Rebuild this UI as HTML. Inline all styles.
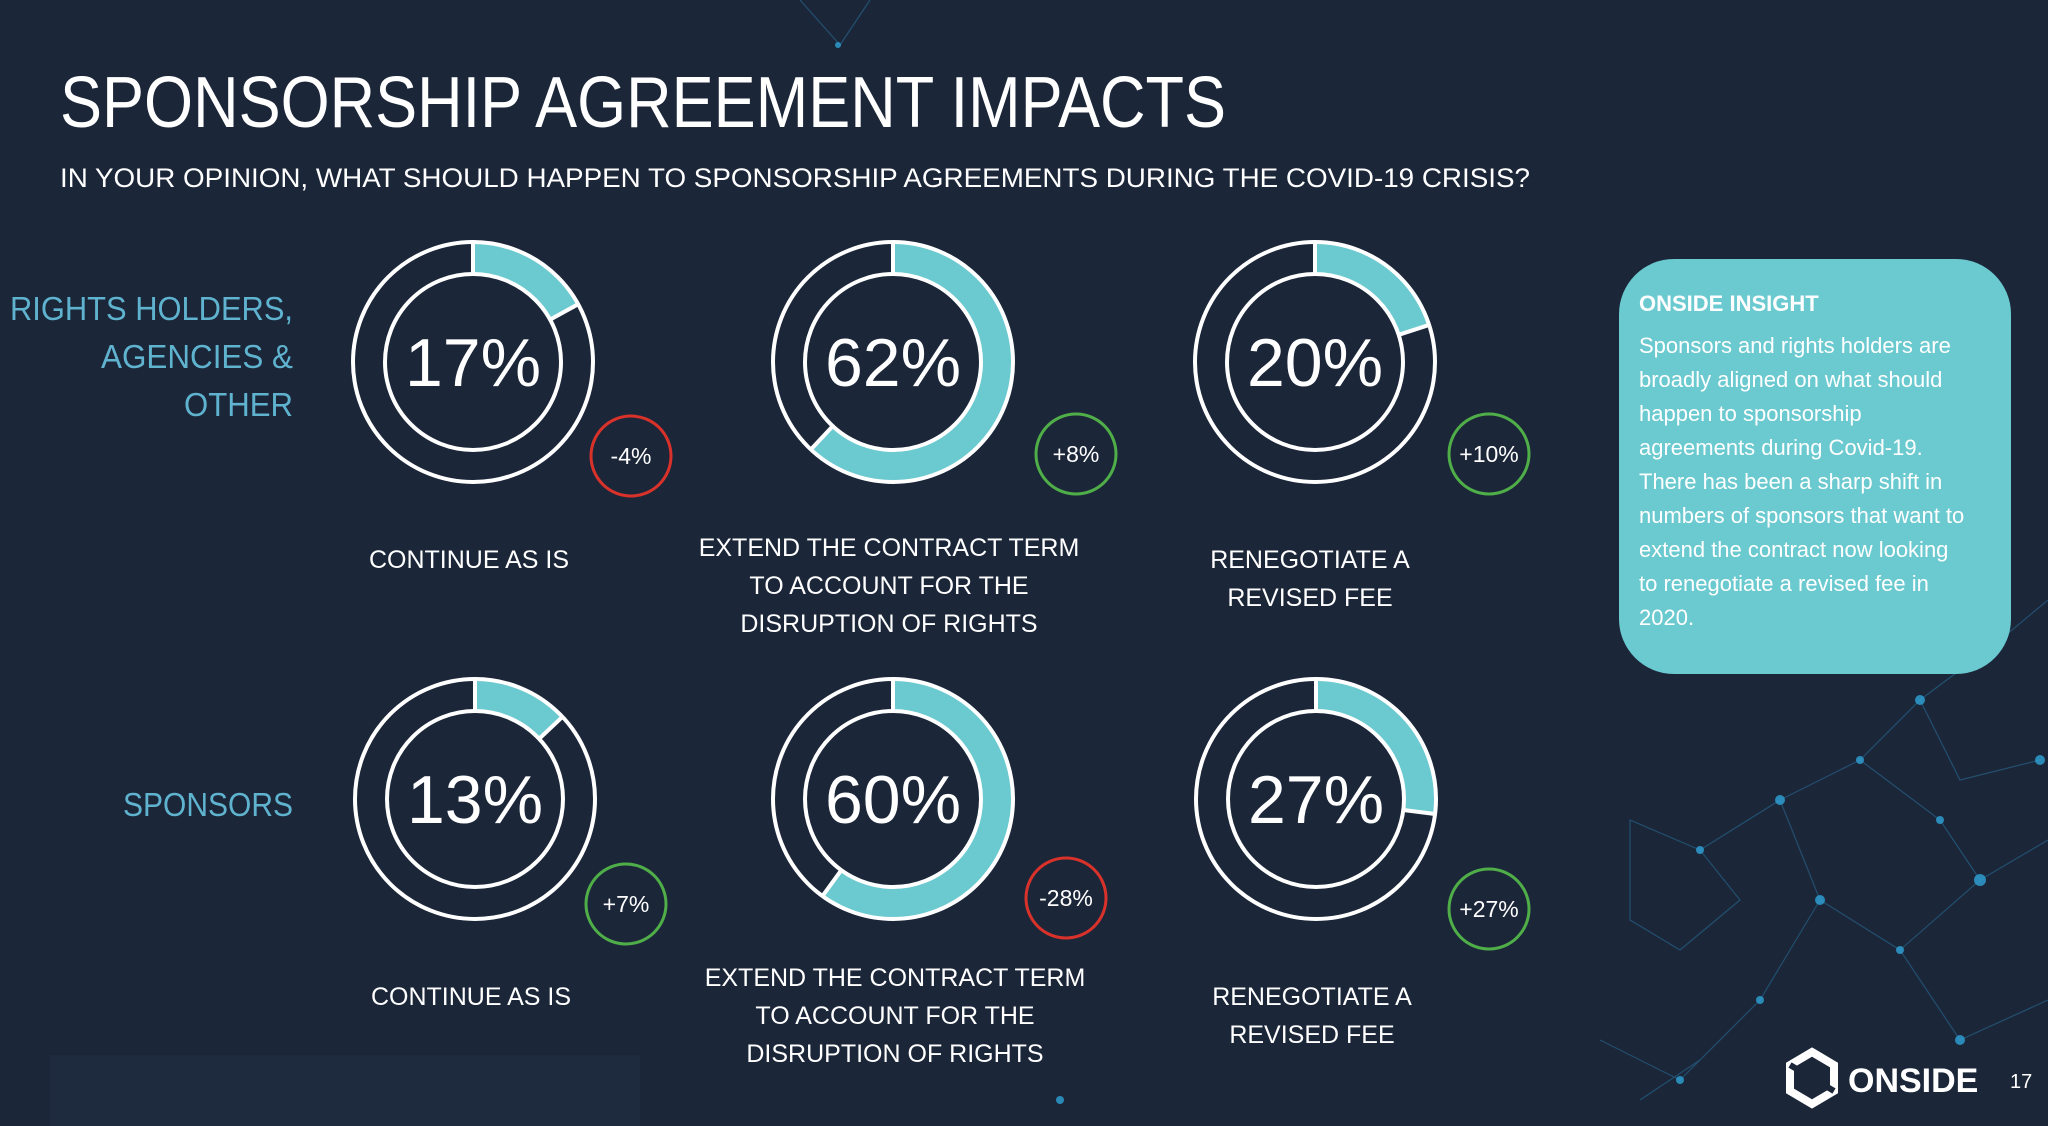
<!DOCTYPE html>
<html><head><meta charset="utf-8"><style>
html,body{margin:0;padding:0;background:#1b2639;}
svg{display:block;font-family:"Liberation Sans",sans-serif;}
</style></head><body>
<svg width="2048" height="1126" viewBox="0 0 2048 1126" xmlns="http://www.w3.org/2000/svg">
<rect width="2048" height="1126" fill="#1b2639"/>
<rect x="50" y="1055" width="590" height="71" fill="#1e2a3e"/>
<!-- network decor -->
<g stroke="#2f8fc0" stroke-width="1.2" opacity="0.4" fill="none">
<path d="M1630 820 L1700 850 L1740 900 L1680 950 L1630 920 Z M1700 850 L1780 800 L1860 760 L1920 700 L2000 640 L2048 600 M1780 800 L1820 900 L1900 950 L1980 880 L2048 840 M1820 900 L1760 1000 L1700 1060 L1640 1100 M1900 950 L1960 1040 L2048 1000 M1860 760 L1940 820 L1980 880 M1600 1040 L1680 1080 L1760 1000 M1920 700 L1960 780 L2040 760"/>
<path d="M800 0 L840 45 L870 0"/>
</g>
<g fill="#2fa3d8" opacity="0.8">
<circle cx="1700" cy="850" r="4"/><circle cx="1780" cy="800" r="5"/><circle cx="1860" cy="760" r="4"/><circle cx="1920" cy="700" r="5"/><circle cx="2000" cy="640" r="4"/><circle cx="1820" cy="900" r="5"/><circle cx="1900" cy="950" r="4"/><circle cx="1980" cy="880" r="6"/><circle cx="1760" cy="1000" r="4"/><circle cx="1960" cy="1040" r="5"/><circle cx="1940" cy="820" r="4"/><circle cx="1680" cy="1080" r="4"/><circle cx="2040" cy="760" r="5"/><circle cx="838" cy="45" r="3"/><circle cx="1060" cy="1100" r="4"/>
</g>

<text x="60" y="127" fill="#fff" font-size="72" textLength="1166" lengthAdjust="spacingAndGlyphs">SPONSORSHIP AGREEMENT IMPACTS</text>
<text x="60" y="187" fill="#fff" font-size="27" textLength="1470" lengthAdjust="spacingAndGlyphs">IN YOUR OPINION, WHAT SHOULD HAPPEN TO SPONSORSHIP AGREEMENTS DURING THE COVID-19 CRISIS?</text>

<g fill="#5fb3cf" font-size="33">
<text x="10" y="320" textLength="283" lengthAdjust="spacingAndGlyphs">RIGHTS HOLDERS,</text>
<text x="101" y="368" textLength="192" lengthAdjust="spacingAndGlyphs">AGENCIES &amp;</text>
<text x="184" y="416" textLength="109" lengthAdjust="spacingAndGlyphs">OTHER</text>
<text x="123" y="816" textLength="170" lengthAdjust="spacingAndGlyphs">SPONSORS</text>
</g>

<defs>
<g id="ringbase">
<circle r="120" fill="none" stroke="#fff" stroke-width="4"/>
<circle r="88" fill="none" stroke="#fff" stroke-width="4"/>
</g>
</defs>

<g transform="translate(473,362)"><circle r="104" fill="none" stroke="#6bc9d0" stroke-width="30" stroke-dasharray="111.1 700" transform="rotate(-90)"/><use href="#ringbase"/><line x1="0" y1="-88" x2="0" y2="-120" stroke="#fff" stroke-width="4"/><line x1="0" y1="-88" x2="0" y2="-120" stroke="#fff" stroke-width="4" transform="rotate(61.2)"/><text y="24" text-anchor="middle" fill="#fff" font-size="68">17%</text></g>
<g transform="translate(893,362)"><circle r="104" fill="none" stroke="#6bc9d0" stroke-width="30" stroke-dasharray="405.1 700" transform="rotate(-90)"/><use href="#ringbase"/><line x1="0" y1="-88" x2="0" y2="-120" stroke="#fff" stroke-width="4"/><line x1="0" y1="-88" x2="0" y2="-120" stroke="#fff" stroke-width="4" transform="rotate(223.2)"/><text y="24" text-anchor="middle" fill="#fff" font-size="68">62%</text></g>
<g transform="translate(1315,362)"><circle r="104" fill="none" stroke="#6bc9d0" stroke-width="30" stroke-dasharray="130.7 700" transform="rotate(-90)"/><use href="#ringbase"/><line x1="0" y1="-88" x2="0" y2="-120" stroke="#fff" stroke-width="4"/><line x1="0" y1="-88" x2="0" y2="-120" stroke="#fff" stroke-width="4" transform="rotate(72)"/><text y="24" text-anchor="middle" fill="#fff" font-size="68">20%</text></g>
<g transform="translate(475,799)"><circle r="104" fill="none" stroke="#6bc9d0" stroke-width="30" stroke-dasharray="84.9 700" transform="rotate(-90)"/><use href="#ringbase"/><line x1="0" y1="-88" x2="0" y2="-120" stroke="#fff" stroke-width="4"/><line x1="0" y1="-88" x2="0" y2="-120" stroke="#fff" stroke-width="4" transform="rotate(46.8)"/><text y="24" text-anchor="middle" fill="#fff" font-size="68">13%</text></g>
<g transform="translate(893,799)"><circle r="104" fill="none" stroke="#6bc9d0" stroke-width="30" stroke-dasharray="392.1 700" transform="rotate(-90)"/><use href="#ringbase"/><line x1="0" y1="-88" x2="0" y2="-120" stroke="#fff" stroke-width="4"/><line x1="0" y1="-88" x2="0" y2="-120" stroke="#fff" stroke-width="4" transform="rotate(216)"/><text y="24" text-anchor="middle" fill="#fff" font-size="68">60%</text></g>
<g transform="translate(1316,799)"><circle r="104" fill="none" stroke="#6bc9d0" stroke-width="30" stroke-dasharray="176.4 700" transform="rotate(-90)"/><use href="#ringbase"/><line x1="0" y1="-88" x2="0" y2="-120" stroke="#fff" stroke-width="4"/><line x1="0" y1="-88" x2="0" y2="-120" stroke="#fff" stroke-width="4" transform="rotate(97.2)"/><text y="24" text-anchor="middle" fill="#fff" font-size="68">27%</text></g>

<g fill="none" stroke-width="3">
<circle cx="631" cy="456" r="40" stroke="#d8322a"/>
<circle cx="1076" cy="454" r="40" stroke="#4fae48"/>
<circle cx="1489" cy="454" r="40" stroke="#4fae48"/>
<circle cx="626" cy="904" r="40" stroke="#4fae48"/>
<circle cx="1066" cy="898" r="40" stroke="#d8322a"/>
<circle cx="1489" cy="909" r="40" stroke="#4fae48"/>
</g>
<g fill="#fff" font-size="23" text-anchor="middle">
<text x="631" y="464">-4%</text>
<text x="1076" y="462">+8%</text>
<text x="1489" y="462">+10%</text>
<text x="626" y="912">+7%</text>
<text x="1066" y="906">-28%</text>
<text x="1489" y="917">+27%</text>
</g>

<g fill="#fff" font-size="25" text-anchor="middle">
<text x="469" y="568">CONTINUE AS IS</text>
<text x="889" y="556">EXTEND THE CONTRACT TERM</text>
<text x="889" y="594">TO ACCOUNT FOR THE</text>
<text x="889" y="632">DISRUPTION OF RIGHTS</text>
<text x="1310" y="568">RENEGOTIATE A</text>
<text x="1310" y="606">REVISED FEE</text>
<text x="471" y="1005">CONTINUE AS IS</text>
<text x="895" y="986">EXTEND THE CONTRACT TERM</text>
<text x="895" y="1024">TO ACCOUNT FOR THE</text>
<text x="895" y="1062">DISRUPTION OF RIGHTS</text>
<text x="1312" y="1005">RENEGOTIATE A</text>
<text x="1312" y="1043">REVISED FEE</text>
</g>

<rect x="1619" y="259" width="392" height="415" rx="55" fill="#6bc9d0"/>
<text x="1639" y="311" fill="#fff" font-size="22" font-weight="bold">ONSIDE INSIGHT</text>
<g fill="#fff" font-size="22">
<text x="1639" y="353">Sponsors and rights holders are</text>
<text x="1639" y="387">broadly aligned on what should</text>
<text x="1639" y="421">happen to sponsorship</text>
<text x="1639" y="455">agreements during Covid-19.</text>
<text x="1639" y="489">There has been a sharp shift in</text>
<text x="1639" y="523">numbers of sponsors that want to</text>
<text x="1639" y="557">extend the contract now looking</text>
<text x="1639" y="591">to renegotiate a revised fee in</text>
<text x="1639" y="625">2020.</text>
</g>

<g transform="translate(1812,1078)">
<polygon points="0,-26 22,-13 22,13 0,26 -22,13 -22,-13" fill="none" stroke="#fff" stroke-width="8"/>
<path d="M-22 -13 L0 0 M22 13 L0 0" stroke="#1b2639" stroke-width="6"/>
</g>
<text x="1848" y="1092" fill="#fff" font-size="34" font-weight="bold">ONSIDE</text>
<text x="2010" y="1088" fill="#fff" font-size="20">17</text>
</svg>
</body></html>
